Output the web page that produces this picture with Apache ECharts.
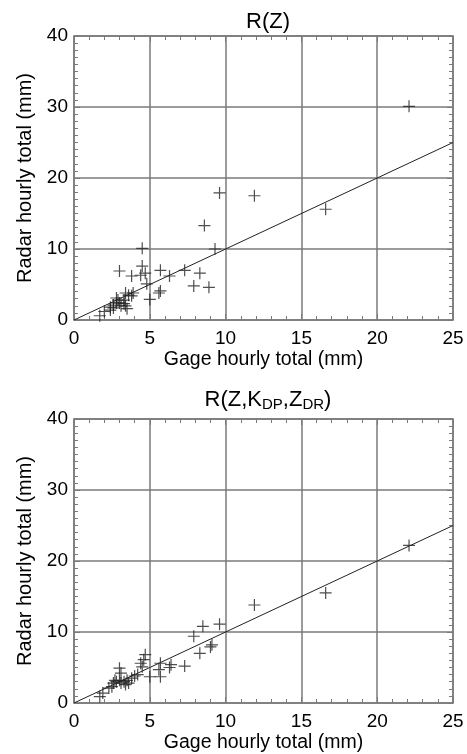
<!DOCTYPE html>
<html>
<head>
<meta charset="utf-8">
<script src="https://cdn.jsdelivr.net/npm/echarts@6/dist/echarts.min.js"></script>
<style>html,body{margin:0;padding:0;background:#fff}#c{width:467px;height:754px}</style>
</head>
<body>
<div id="c"></div>
<script>
// R(Z) panel
const gageZ  = [22.1,16.6,11.9,9.6,8.6,9.3,4.5,3.0,4.5,4.7,4.4,3.8,5.7,6.3,7.3,8.3,7.9,8.9,4.8,5.6,5.7,5.0,3.8,3.4,3.5,3.3,1.7,2.0,2.4,2.6,2.4,2.6,2.8,2.8,3.0,3.1,3.3,3.6,3.9,2.9,3.4];
const radarZ = [30.1,15.6,17.5,17.9,13.3,10.0,10.1,6.9,7.6,6.6,6.3,6.2,7.0,6.2,7.0,6.6,4.8,4.6,5.1,3.8,4.1,2.9,3.4,3.8,1.6,2.3,0.6,1.2,1.4,1.7,1.8,2.1,3.1,2.4,2.4,2.0,2.8,3.5,3.8,2.8,2.0];
// R(Z,KDP,ZDR) panel
const gagePol  = [22.1,16.6,11.9,9.6,8.5,7.9,8.3,9.1,9.0,7.3,6.4,6.3,4.7,4.6,4.4,4.5,5.7,5.6,5.7,5.0,3.0,3.1,1.7,1.9,2.3,2.6,2.8,3.3,3.5,3.8,4.0,3.0,2.7,2.5,3.1,3.6,4.2,3.4];
const radarPol = [22.2,15.5,13.8,11.1,10.8,9.4,7.0,8.2,7.9,5.2,5.4,5.0,6.8,6.1,5.6,5.1,5.6,4.7,3.7,3.7,4.9,4.2,0.9,1.4,2.1,2.8,3.0,3.0,3.2,3.5,3.8,3.2,3.2,2.3,2.8,2.8,4.0,2.6];
// 1:1 reference line
const refX = [0, 25];
const refY = [0, 25];
const xTicks = [0,5,10,15,20,25];
const yTicks = [0,10,20,30,40];

const FONT = 'Liberation Sans';
const GRID = '#7a7a7a';
const plus = 'path://M4.5,0h1v10h-1zM0,4.5h10v1h-10z';

function pairs(xs, ys){ return xs.map((x,i)=>[x, ys[i]]); }

function xAxes(gi){
  const base = {
    gridIndex: gi, type:'value', min: xTicks[0], max: xTicks[xTicks.length-1], interval: 5,
    axisLine:{show:true, onZero:false, lineStyle:{color:GRID, width:1.5}},
    axisTick:{show:true, inside:true, length:6, lineStyle:{color:GRID, width:1}},
    minorTick:{show:true, splitNumber:5, length:4, lineStyle:{color:GRID, width:1}},
  };
  return [
    Object.assign({}, base, {position:'bottom',
      axisLabel:{show:true, color:'#000', fontFamily:FONT, fontSize:19, margin:9, showMaxLabel:true, showMinLabel:true},
      splitLine:{show:true, lineStyle:{color:GRID, width:1.5}},
      name:'Gage hourly total (mm)', nameLocation:'middle', nameGap:30,
      nameTextStyle:{color:'#000', fontFamily:FONT, fontSize:19.5}}),
    Object.assign({}, base, {position:'top', axisLabel:{show:false}, splitLine:{show:false}})
  ];
}
function yAxes(gi){
  const base = {
    gridIndex: gi, type:'value', min: yTicks[0], max: yTicks[yTicks.length-1], interval: 10,
    axisLine:{show:true, onZero:false, lineStyle:{color:GRID, width:1.5}},
    axisTick:{show:true, inside:true, length:6, lineStyle:{color:GRID, width:1}},
    minorTick:{show:true, splitNumber:10, length:4, lineStyle:{color:GRID, width:1}},
  };
  return [
    Object.assign({}, base, {position:'left',
      axisLabel:{show:true, color:'#000', fontFamily:FONT, fontSize:19, margin:6},
      splitLine:{show:true, lineStyle:{color:GRID, width:1.5}},
      name:'Radar hourly total (mm)', nameLocation:'middle', nameGap:38,
      nameTextStyle:{color:'#000', fontFamily:FONT, fontSize:20}}),
    Object.assign({}, base, {position:'right', axisLabel:{show:false}, splitLine:{show:false}})
  ];
}

const chart = echarts.init(document.getElementById('c'), null, {renderer:'canvas'});
chart.setOption({
  animation:false,
  backgroundColor:'#fff',
  title:[
    {text:'R(Z)', left:263, top:6, textAlign:'center',
     textStyle:{fontFamily:FONT, fontSize:22, fontWeight:'normal', color:'#000'}},
    {text:'R(Z,{s|K}{sub|DP}{s|,Z}{sub|DR}{s|)}', left:263, top:383, textAlign:'center',
     textStyle:{fontFamily:FONT, fontSize:22, fontWeight:'normal', color:'#000',
       rich:{s:{fontFamily:FONT, fontSize:22, color:'#000'},
             sub:{fontFamily:FONT, fontSize:15, color:'#000', verticalAlign:'bottom', padding:[9,0,0,0]}}}}
  ],
  grid:[
    {left:74, top:36, width:379, height:284},
    {left:74, top:419, width:379, height:284}
  ],
  xAxis:[...xAxes(0), ...xAxes(1)],
  yAxis:[...yAxes(0), ...yAxes(1)],
  series:[
    {type:'line', xAxisIndex:0, yAxisIndex:0, data:pairs(refX, refY), symbol:'none',
     lineStyle:{color:'#222', width:1}, silent:true},
    {type:'scatter', xAxisIndex:0, yAxisIndex:0, data:pairs(gageZ, radarZ), symbol:plus, symbolSize:12,
     itemStyle:{color:'#222'}},
    {type:'line', xAxisIndex:2, yAxisIndex:2, data:pairs(refX, refY), symbol:'none',
     lineStyle:{color:'#222', width:1}, silent:true},
    {type:'scatter', xAxisIndex:2, yAxisIndex:2, data:pairs(gagePol, radarPol), symbol:plus, symbolSize:12,
     itemStyle:{color:'#222'}}
  ]
});
</script>
</body>
</html>
